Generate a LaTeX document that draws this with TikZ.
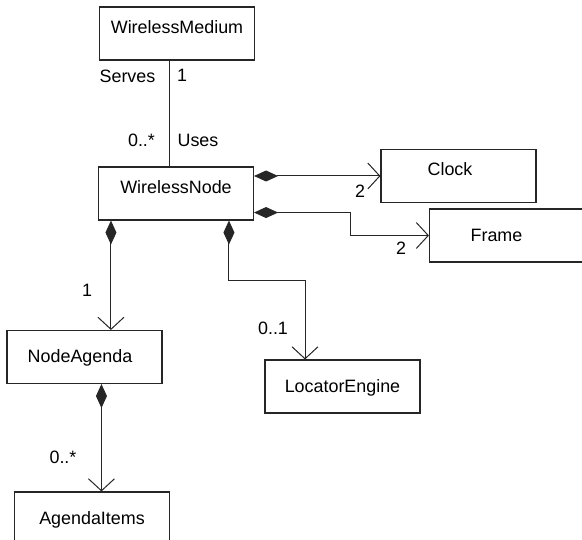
\documentclass[tikz,border=0pt]{standalone}
\usepackage{fontspec}
\setmainfont{Liberation Sans}
\usetikzlibrary{arrows.meta}
\tikzset{
  cls/.style={draw=black!85, line width=1.1pt, minimum width=155pt, inner sep=0pt,
    text height=32.4pt, text depth=20.6pt},
  clstop/.style={cls, text height=26.4pt, text depth=26.6pt},
  lefttext/.style={execute at begin node=\hspace*{-#1}},
  lbl/.style={inner sep=0pt, text height=12.8pt, text depth=0pt},
  assoc/.style={draw=black!85, line width=1pt},
  comp/.style={assoc, {Diamond[length=24pt,width=11pt]}-{Straight Barb[length=12pt,width=26pt]}},
}
\begin{document}
\begin{tikzpicture}[x=1pt,y=-1pt,font=\fontsize{17.9pt}{21pt}\selectfont]
\useasboundingbox (0,0) rectangle (582,540);
\clip (0,0) rectangle (582,540);
% classes
\node[clstop] (wm) at (177,33.5) {WirelessMedium};
\node[clstop] (wn) at (176,193.5) {WirelessNode};
\node[clstop,lefttext=17pt] (clk) at (458.5,176) {Clock};
\node[cls,lefttext=21pt] (frm) at (507,235.5) {Frame};
\node[cls,lefttext=9pt] (na) at (84.5,357) {NodeAgenda};
\node[cls] (le) at (342.5,386.5) {LocatorEngine};
\node[cls] (ai) at (92,518.5) {AgendaItems};
% connector ends
\coordinate (m0) at ([xshift=-8pt]wm.south);
\coordinate (d1) at ([xshift=13pt]wn.south west);
\coordinate (d2) at ([xshift=131pt]wn.south west);
\coordinate (d3) at ([xshift=95pt]na.south west);
% connectors
\draw[assoc] (m0) -- (m0 |- wn.north);
\draw[comp] (wn.east |- clk.west) -- (clk.west);
\draw[comp] ([yshift=8pt]wn.south east) -- ++(96,0) |- (frm.west);
\draw[comp] (d1) -- (d1 |- na.north);
\draw[comp] (d2) -- ++(0,60) -| ([xshift=-37.5pt]le.north);
\draw[comp] (d3) -- (d3 |- ai.north);
% roles and multiplicities
\node[lbl] (serves) at (127.5,76) {Serves};
\node[lbl] (mwm) at (182,75) {1};
\node[lbl] (mwn) at (141.5,140) {0..*};
\node[lbl] (uses) at (198,140) {Uses};
\node[lbl] (mclk) at (360,191) {2};
\node[lbl] (mfrm) at (401,248) {2};
\node[lbl] (mna) at (87,290) {1};
\node[lbl] (mle) at (273,328) {0..1};
\node[lbl] (mai) at (63,457) {0..*};
\end{tikzpicture}
\end{document}
